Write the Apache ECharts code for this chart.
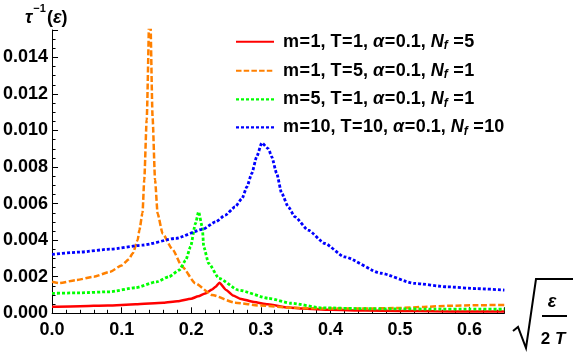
<!DOCTYPE html>
<html><head><meta charset="utf-8">
<script src="https://cdn.jsdelivr.net/npm/echarts@6/dist/echarts.min.js"></script>
<style>html,body{margin:0;padding:0;background:#fff}#c{width:576px;height:353px}</style>
</head><body><div id="c"></div>
<script>
// ---- data ----
const legendNames = [
  'm=1, T=1, {i|α}=0.1, {i|N}{s|f} =5',
  'm=1, T=5, {i|α}=0.1, {i|N}{s|f} =1',
  'm=5, T=1, {i|α}=0.1, {i|N}{s|f} =1',
  'm=10, T=10, {i|α}=0.1, {i|N}{s|f} =10'
];
const xTicks = [0, 0.1, 0.2, 0.3, 0.4, 0.5, 0.6];
const yTicks = [0, 0.002, 0.004, 0.006, 0.008, 0.010, 0.012, 0.014];

const redX = [0, 0.04, 0.08, 0.12, 0.16, 0.18, 0.2, 0.21, 0.22, 0.23, 0.235, 0.2405, 0.25, 0.26, 0.27, 0.29, 0.31, 0.34, 0.36, 0.4, 0.45, 0.5, 0.55, 0.6, 0.65];
const redY = [0.00036, 0.00039, 0.00043, 0.00049, 0.00058, 0.00066, 0.00080, 0.00093, 0.00108, 0.00130, 0.00145, 0.00167, 0.00128, 0.00098, 0.00080, 0.00062, 0.00049, 0.00032, 0.00026, 0.00019, 0.00015, 0.00013, 0.00011, 0.00010, 0.00010];

const orangeX = [0, 0.01, 0.035, 0.06, 0.083, 0.1, 0.11, 0.116, 0.123, 0.1255, 0.13, 0.1325, 0.136, 0.1405, 0.1445, 0.148, 0.1517, 0.159, 0.173, 0.187, 0.206, 0.23, 0.263, 0.3, 0.344, 0.4, 0.45, 0.5, 0.534, 0.57, 0.61, 0.65];
const orangeY = [0.00173, 0.00165, 0.00182, 0.00200, 0.00227, 0.00262, 0.00295, 0.00328, 0.00400, 0.00455, 0.00550, 0.00730, 0.01060, 0.01750, 0.01070, 0.00730, 0.00546, 0.00435, 0.00350, 0.00255, 0.00164, 0.00100, 0.00058, 0.00042, 0.00030, 0.00026, 0.00026, 0.00029, 0.00035, 0.00041, 0.00044, 0.00046];

const greenX = [0, 0.04, 0.083, 0.12, 0.15, 0.168, 0.183, 0.192, 0.199, 0.206, 0.2106, 0.2158, 0.218, 0.225, 0.24, 0.268, 0.311, 0.344, 0.387, 0.45, 0.5, 0.55, 0.6, 0.65];
const greenY = [0.00109, 0.00112, 0.00118, 0.00140, 0.00172, 0.00200, 0.00237, 0.00290, 0.00364, 0.00490, 0.00555, 0.00473, 0.00364, 0.00273, 0.00191, 0.00127, 0.00082, 0.00055, 0.00030, 0.00025, 0.00024, 0.00023, 0.00023, 0.00022];

const blueX = [0, 0.04, 0.083, 0.13, 0.178, 0.216, 0.235, 0.249, 0.263, 0.273, 0.28, 0.287, 0.294, 0.3014, 0.311, 0.3157, 0.3228, 0.33, 0.3395, 0.349, 0.368, 0.392, 0.42, 0.4726, 0.52, 0.568, 0.61, 0.65];
const blueY = [0.00322, 0.00335, 0.00351, 0.00373, 0.00410, 0.00459, 0.00500, 0.00537, 0.00582, 0.00628, 0.00692, 0.00765, 0.00856, 0.00932, 0.00900, 0.00856, 0.00765, 0.00656, 0.00582, 0.00528, 0.00455, 0.00382, 0.00309, 0.00219, 0.00164, 0.00145, 0.00135, 0.00127];

// ---- chart ----
const pairs = (xs, ys) => xs.map((x, i) => [x, ys[i]]);
const FONT = '"Liberation Sans", Arial, sans-serif';
const chart = echarts.init(document.getElementById('c'), null, {renderer: 'canvas'});

const styles = [
  {color: '#ff0000', type: 'solid', dash: null, width: 2.5},
  {color: '#ff8000', type: [6, 2.5], dash: [5.5, 2.2], width: 2.5},
  {color: '#00ff00', type: [3, 2], dash: [3, 2], width: 2.8},
  {color: '#0000ff', type: [3, 2], dash: [3, 2], width: 2.8}
];
const allX = [redX, orangeX, greenX, blueX];
const allY = [redY, orangeY, greenY, blueY];

const series = styles.map((s, k) => ({
  name: 'S' + k, type: 'line', data: pairs(allX[k], allY[k]), showSymbol: false, symbol: 'none',
  smooth: 0.2, smoothMonotone: 'x', clip: true,
  lineStyle: {color: s.color, width: s.width, type: s.type, cap: 'butt'},
  itemStyle: {color: s.color}, z: 3
}));

const LF = 18;
const richLeg = {
  i: {fontStyle: 'italic', fontWeight: 'bold', fontSize: LF, fontFamily: FONT, fill: '#000'},
  s: {fontStyle: 'italic', fontWeight: 'bold', fontSize: 12, fontFamily: FONT, fill: '#000', padding: [8, 0, 0, 0]},
  e: {fontWeight: 'bold', fontSize: LF, fontFamily: FONT, fill: '#000', padding: [0, 0.5, 0, 0.5]}
};
const toRich = t => t.replace(/=/g, '{e|=}');
const rowY = [41.7, 70.7, 99.3, 127.3];
const legendGraphics = [];
styles.forEach((s, k) => {
  legendGraphics.push({type: 'line', shape: {x1: 236, y1: rowY[k], x2: 274, y2: rowY[k]},
    style: {stroke: s.color, lineWidth: s.width - 0.5, lineDash: s.dash, lineCap: 'butt'}});
  legendGraphics.push({type: 'text', x: 283, y: rowY[k], style: {
    text: toRich(legendNames[k]), fontFamily: FONT, fontWeight: 'bold', fontSize: LF, fill: '#000',
    verticalAlign: 'middle', align: 'left', rich: richLeg}});
});

chart.setOption({
  animation: false,
  backgroundColor: '#fff',
  grid: {left: 48.7, right: 71.6, top: 30, bottom: 39.7, containLabel: false},
  xAxis: {
    type: 'value', min: 0, max: 0.65, interval: 0.1,
    axisLine: {show: true, onZero: false, lineStyle: {color: '#000', width: 1}},
    axisTick: {show: true, inside: true, length: 6, lineStyle: {color: '#000'}},
    minorTick: {show: true, splitNumber: 5, length: 3.5, lineStyle: {color: '#000'}},
    splitLine: {show: false},
    axisLabel: {show: true, showMaxLabel: false, margin: 8, color: '#000', fontFamily: FONT, fontWeight: 'bold', fontSize: 18,
      formatter: v => xTicks.some(t => Math.abs(t - v) < 1e-9) ? v.toFixed(1) : ''}
  },
  yAxis: {
    type: 'value', min: 0, max: 0.0155, interval: 0.002,
    axisLine: {show: true, onZero: false, lineStyle: {color: '#000', width: 1}},
    axisTick: {show: true, inside: true, length: 6, lineStyle: {color: '#000'}},
    minorTick: {show: true, splitNumber: 4, length: 3.5, lineStyle: {color: '#000'}},
    splitLine: {show: false},
    axisLabel: {show: true, showMaxLabel: false, margin: 4, color: '#000', fontFamily: FONT, fontWeight: 'bold', fontSize: 18,
      formatter: v => yTicks.some(t => Math.abs(t - v) < 1e-12) ? v.toFixed(3) : ''}
  },
  series: series,
  graphic: legendGraphics.concat([
    {type: 'text', left: 25, top: 3, style: {
      text: '{a|τ}{b|−1}{c|(}{a|ε}{c|)}',
      rich: {
        a: {fontFamily: FONT, fontWeight: 'bold', fontStyle: 'italic', fontSize: 18, fill: '#000', lineHeight: 24, verticalAlign: 'bottom'},
        b: {fontFamily: FONT, fontWeight: 'bold', fontSize: 11, fill: '#000', lineHeight: 24, verticalAlign: 'top', padding: [0, 1, 0, 1]},
        c: {fontFamily: FONT, fontWeight: 'bold', fontSize: 18, fill: '#000', lineHeight: 24, verticalAlign: 'bottom'}
      }}},
    {type: 'polyline', shape: {points: [[513, 331], [518, 327], [526, 348], [536, 279], [573, 279]]},
      style: {stroke: '#000', lineWidth: 2, fill: null}},
    {type: 'text', x: 552, y: 302, style: {text: 'ε', fontFamily: FONT, fontWeight: 'bold', fontStyle: 'italic', fontSize: 18, fill: '#000', align: 'center', verticalAlign: 'middle'}},
    {type: 'line', shape: {x1: 542, y1: 316, x2: 567, y2: 316}, style: {stroke: '#000', lineWidth: 2}},
    {type: 'text', x: 553, y: 339, style: {
      text: '{n|2 }{t|T}', align: 'center', verticalAlign: 'middle',
      rich: {
        n: {fontFamily: FONT, fontWeight: 'bold', fontSize: 17, fill: '#000'},
        t: {fontFamily: FONT, fontWeight: 'bold', fontStyle: 'italic', fontSize: 17, fill: '#000'}
      }}}
  ])
});
</script></body></html>
